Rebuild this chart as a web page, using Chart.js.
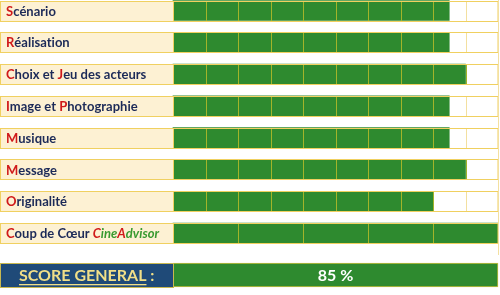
<!DOCTYPE html>
<html>
<head>
<meta charset="utf-8">
<script src="https://cdn.jsdelivr.net/npm/chart.js@4.4.0/dist/chart.umd.min.js"></script>
<style>
html, body { margin: 0; padding: 0; background: #fff; }
#top { position: absolute; left: 0; top: 0; width: 500px; height: 255px; }
#bottom { position: absolute; left: 0; top: 255px; width: 500px; height: 40px; }
</style>
</head>
<body>
<div id="top"><canvas id="notes"></canvas></div>
<div id="bottom"><canvas id="score"></canvas></div>
<script>
// criteria and their marks
var categories = ['Scénario', 'Réalisation', 'Choix et Jeu des acteurs', 'Image et Photographie',
                  'Musique', 'Message', 'Originalité', 'Coup de Cœur CineAdvisor'];
var points = [8.5, 8.5, 9, 8.5, 8.5, 9, 8, 5];
var maxPoints = [10, 10, 10, 10, 10, 10, 10, 5];
// letters printed in red, and where the italic brand name starts
var redLetters = [[0], [0], [0, 9], [0, 9], [0], [0], [0], [0, 13, 17]];
var brandFrom = [-1, -1, -1, -1, -1, -1, -1, 13];

var scoreLabel = ['SCORE GENERAL'];
var scoreValue = [85];

var GREEN = '#2e8a2f';
var OLIVE = '#a2b42a';
var YEL = '#f0d060';
var LIGHT = '#f3e0a0';
var BEIGE = '#fdf1d3';
var NAVY = '#1c2a58';
var RED = '#d01a1a';

var scaled = points.map(function (p, i) { return p / maxPoints[i] * 10; });
var full = maxPoints.map(function () { return 10; });

function drawLabel(ctx, text, i, x, y) {
  var px = x;
  for (var c = 0; c < text.length; c++) {
    var brand = brandFrom[i] >= 0 && c >= brandFrom[i];
    ctx.font = (brand ? 'italic ' : '') + '700 13px Lato';
    if (redLetters[i].indexOf(c) >= 0) ctx.fillStyle = RED;
    else ctx.fillStyle = brand ? '#389a30' : NAVY;
    ctx.fillText(text[c], px, y);
    px += ctx.measureText(text[c]).width;
  }
}

var cellPlugin = {
  id: 'cells',
  afterDatasetsDraw: function (chart) {
    var ctx = chart.ctx, xs = chart.scales.x, ys = chart.scales.y, area = chart.chartArea;
    ctx.save();
    ctx.lineWidth = 1;
    categories.forEach(function (label, i) {
      var cy = ys.getPixelForValue(i);
      var top = Math.round(cy - 10) + 0.5, bot = top + 20;
      // cell separators
      var step = 10 / maxPoints[i];
      for (var k = 1; k < maxPoints[i]; k++) {
        var v = k * step;
        var px = Math.round(xs.getPixelForValue(v)) + 0.5;
        ctx.strokeStyle = v <= scaled[i] ? OLIVE : LIGHT;
        ctx.beginPath(); ctx.moveTo(px, top); ctx.lineTo(px, bot); ctx.stroke();
      }
      // label cell
      ctx.fillStyle = BEIGE;
      ctx.fillRect(0, top, area.left, 20);
      ctx.strokeStyle = YEL;
      ctx.strokeRect(0.5, top, Math.round(area.right) - 0.5, 20);
      ctx.beginPath(); ctx.moveTo(area.left + 0.5, top); ctx.lineTo(area.left + 0.5, bot); ctx.stroke();
      ctx.textBaseline = 'middle';
      ctx.textAlign = 'left';
      drawLabel(ctx, label, i, 6, cy + 1);
    });
    // right border of the table runs through the gaps
    var rx = Math.round(area.right) + 0.5;
    ctx.strokeStyle = LIGHT;
    ctx.beginPath(); ctx.moveTo(rx, 0); ctx.lineTo(rx, chart.height); ctx.stroke();
    ctx.restore();
  }
};

new Chart(document.getElementById('notes'), {
  type: 'bar',
  data: {
    labels: categories,
    datasets: [
      { data: scaled, backgroundColor: GREEN, borderWidth: 0, barThickness: 20, grouped: false, clip: false, order: 0 },
      { data: full, backgroundColor: '#fff', borderWidth: 0, barThickness: 20, grouped: false, clip: false, order: 1 }
    ]
  },
  options: {
    indexAxis: 'y',
    responsive: true,
    maintainAspectRatio: false,
    animation: false,
    layout: { padding: { left: 173, right: 2, top: 10.5, bottom: 22 } },
    plugins: { legend: { display: false }, tooltip: { enabled: false } },
    scales: {
      x: { min: 0, max: 10, display: false },
      y: { display: false, offset: false }
    }
  },
  plugins: [cellPlugin]
});

var scorePlugin = {
  id: 'scoreText',
  afterDatasetsDraw: function (chart) {
    var ctx = chart.ctx, ys = chart.scales.y, area = chart.chartArea;
    var cy = ys.getPixelForValue(0);
    var top = Math.round(cy - 12) + 0.5;
    ctx.save();
    ctx.fillStyle = '#1f4a78';
    ctx.fillRect(0, top, area.left, 24);
    ctx.strokeStyle = '#c8b850';
    ctx.lineWidth = 1;
    ctx.strokeRect(0.5, top, area.left, 24);
    ctx.font = '700 16px Lato';
    ctx.textBaseline = 'middle';
    ctx.textAlign = 'left';
    ctx.fillStyle = '#f1df88';
    var txt = scoreLabel[0];
    ctx.fillText(txt + ' :', 19, cy + 1);
    var w = ctx.measureText(txt).width;
    ctx.fillRect(19, cy + 9, w, 1.3);
    ctx.fillStyle = '#fff';
    ctx.textAlign = 'center';
    ctx.fillText(scoreValue[0] + ' %', (area.left + area.right) / 2, cy + 1);
    ctx.restore();
  }
};

new Chart(document.getElementById('score'), {
  type: 'bar',
  data: {
    labels: scoreLabel,
    datasets: [{ data: scoreValue, backgroundColor: GREEN, borderColor: '#c8c040', borderWidth: 1, barThickness: 24, clip: false }]
  },
  options: {
    indexAxis: 'y',
    responsive: true,
    maintainAspectRatio: false,
    animation: false,
    layout: { padding: { left: 173, right: 2, top: 0, bottom: 0 } },
    plugins: { legend: { display: false }, tooltip: { enabled: false } },
    scales: {
      x: { min: 0, max: scoreValue[0], display: false },
      y: { display: false }
    }
  },
  plugins: [scorePlugin]
});
</script>
</body>
</html>
